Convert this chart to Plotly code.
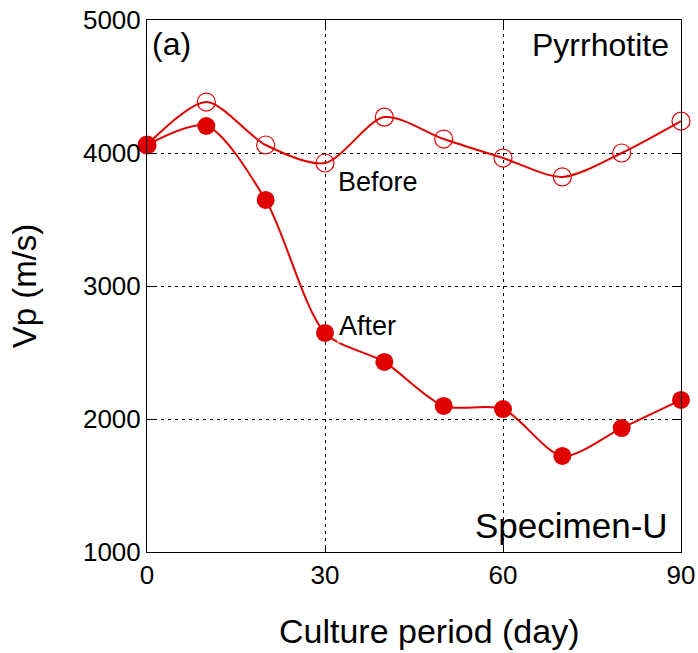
import plotly.graph_objects as go

days = [0, 10, 20, 30, 40, 50, 60, 70, 80, 90]
vp_before = [4060, 4383, 4060, 3925, 4270, 4105, 3962, 3820, 4000, 4240]
vp_after = [4060, 4203, 3647, 2647, 2429, 2098, 2075, 1722, 1932, 2143]
x_ticks = [0, 30, 60, 90]
y_ticks = [1000, 2000, 3000, 4000, 5000]

RED = "#e00000"
FONT = "Liberation Sans, Arial, sans-serif"

fig = go.Figure()
fig.add_trace(go.Scatter(
    x=days, y=vp_before, mode="lines+markers", name="Before",
    line=dict(color=RED, width=2, shape="spline", smoothing=0.8),
    marker=dict(symbol="circle-open", size=18, color=RED, line=dict(width=1.2, color=RED)),
    cliponaxis=False))
fig.add_trace(go.Scatter(
    x=days, y=vp_after, mode="lines+markers", name="After",
    line=dict(color=RED, width=2, shape="spline", smoothing=0.8),
    marker=dict(symbol="circle", size=18, color=RED),
    cliponaxis=False))

axis_common = dict(
    showline=True, linecolor="black", linewidth=1, mirror="ticks",
    ticks="inside", ticklen=7, tickcolor="black",
    showgrid=True, gridcolor="black", gridwidth=1, griddash="3px,4px",
    zeroline=False, automargin=False,
    tickfont=dict(family=FONT, size=26, color="black"),
)
fig.update_xaxes(range=[0, 90], tickvals=x_ticks, **axis_common)
fig.update_yaxes(range=[1000, 5000], tickvals=y_ticks, **axis_common,
                 title=dict(text="Vp (m/s)", font=dict(family=FONT, size=33, color="black"), standoff=36))

# x-axis title as an annotation (placed slightly right of centre as in the reference)
fig.add_annotation(x=0.528, y=-0.148, xref="paper", yref="paper", text="Culture period (day)",
                   showarrow=False, xanchor="center", yanchor="middle",
                   font=dict(family=FONT, size=34, color="black"))

ann_font = dict(family=FONT, size=32, color="black")
fig.add_annotation(x=0, y=5000, xref="x", yref="y", text="(a)", showarrow=False,
                   xanchor="left", yanchor="top", xshift=3, yshift=-4, font=ann_font)
fig.add_annotation(x=90, y=5000, xref="x", yref="y", text="Pyrrhotite", showarrow=False,
                   xanchor="right", yanchor="top", xshift=-10, yshift=-5, font=ann_font)
fig.add_annotation(x=90, y=1000, xref="x", yref="y", text="Specimen-U", showarrow=False,
                   xanchor="right", yanchor="bottom", xshift=-11, yshift=5,
                   font=dict(family=FONT, size=35, color="black"))
fig.add_annotation(x=31.8, y=3780, xref="x", yref="y", text="Before", showarrow=False,
                   xanchor="left", yanchor="middle", font=dict(family=FONT, size=27, color="black"))
fig.add_annotation(x=32.0, y=2700, xref="x", yref="y", text="After", showarrow=False,
                   xanchor="left", yanchor="middle", bgcolor="white",
                   font=dict(family=FONT, size=27, color="black"))

fig.update_layout(
    width=698, height=653,
    margin=dict(l=147, r=17, t=20, b=101),
    plot_bgcolor="white", paper_bgcolor="white",
    showlegend=False,
)
fig.write_html("out.html")
